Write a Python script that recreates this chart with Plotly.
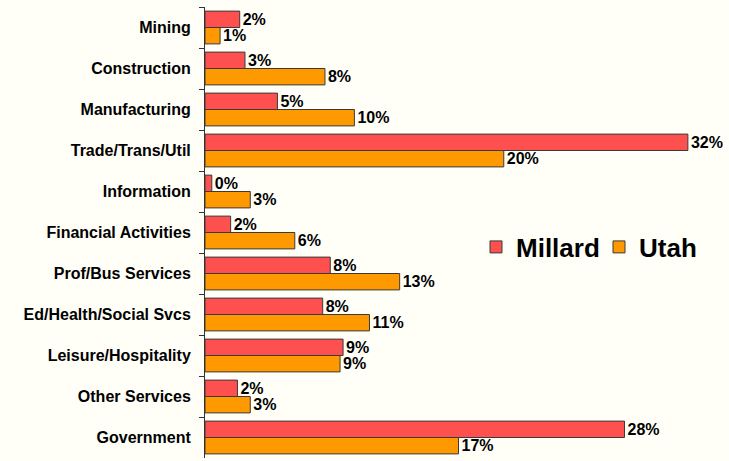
import plotly.graph_objects as go

categories = ["Mining", "Construction", "Manufacturing", "Trade/Trans/Util", "Information",
              "Financial Activities", "Prof/Bus Services", "Ed/Health/Social Svcs",
              "Leisure/Hospitality", "Other Services", "Government"]
millard = [2.3, 2.65, 4.8, 32.0, 0.45, 1.7, 8.3, 7.8, 9.15, 2.15, 27.8]
utah = [1.0, 7.95, 9.9, 19.8, 3.0, 5.95, 12.9, 10.9, 8.95, 3.0, 16.8]

BG = "#FFFFF8"
FONT = "Arial, Liberation Sans, sans-serif"

def labels(vals):
    return [f"{round(v)}%" for v in vals]

fig = go.Figure()
for name, vals, col in [("Millard", millard, "#FF5050"), ("Utah", utah, "#FF9900")]:
    fig.add_trace(go.Bar(
        y=categories, x=vals, name=name, orientation="h",
        marker=dict(color=col, line=dict(color="#3a3a3a", width=1)),
        text=labels(vals), textposition="outside", cliponaxis=False,
        constraintext="none",
        textfont=dict(family=FONT, size=16, color="black", weight="bold"),
    ))

fig.update_layout(
    width=729, height=461,
    margin=dict(l=205, r=0, t=7, b=3, autoexpand=False),
    paper_bgcolor=BG, plot_bgcolor=BG,
    barmode="group", bargap=0.2, bargroupgap=0,
    font=dict(family=FONT, color="black"),
    showlegend=True,
    legend=dict(
        orientation="h",
        x=(476 - 205) / 524, y=(458 - 247) / 451, xanchor="left", yanchor="middle",
        font=dict(family=FONT, size=26, color="black", weight="bold"),
        bgcolor="rgba(0,0,0,0)", itemwidth=30, entrywidth=78,
    ),
    xaxis=dict(range=[0, 524 / 15.09], visible=False, showgrid=False, zeroline=False),
    yaxis=dict(
        autorange="reversed", showgrid=False, zeroline=False,
        showline=True, linecolor="#333333", linewidth=1,
        ticks="outside", ticklen=5, tickcolor="#333333", tickson="boundaries",
        tickfont=dict(family=FONT, size=16, color="black", weight="bold"),
        ticklabelstandoff=10,
    ),
)

fig.write_html(
    "out.html",
    config={"displayModeBar": False},
    post_script="document.body.style.margin='0';document.body.style.background='#FFFFF8';",
)
